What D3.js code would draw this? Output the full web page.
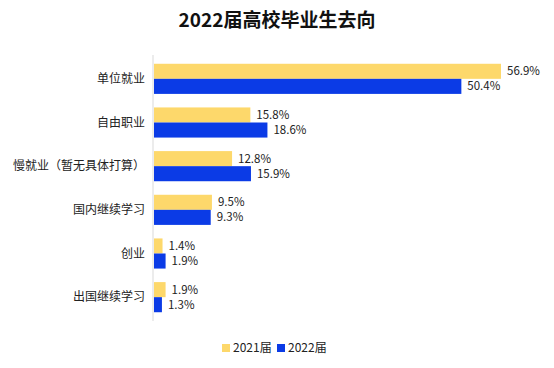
<!DOCTYPE html>
<html>
<head>
<meta charset="utf-8">
<script src="https://cdn.jsdelivr.net/npm/d3@7"></script>
<style>
  body { margin: 0; background: #fff; }
  text { font-family: "Noto Sans CJK SC", "Microsoft YaHei", sans-serif; }
</style>
</head>
<body>
<script>
const categories = ["单位就业", "自由职业", "慢就业（暂无具体打算）", "国内继续学习", "创业", "出国继续学习"];
const series = ["2021届", "2022届"];
const values2021 = [56.9, 15.8, 12.8, 9.5, 1.4, 1.9];
const values2022 = [50.4, 18.6, 15.9, 9.3, 1.9, 1.3];
const colors = ["#FDD86B", "#0B3BE6"];

const W = 554, H = 368;
const marginLeft = 153, plotTop = 57, plotBottom = 319;

const svg = d3.select("body").append("svg")
    .attr("width", W)
    .attr("height", H);

svg.append("text")
    .attr("x", W / 2)
    .attr("y", 27)
    .attr("text-anchor", "middle")
    .attr("font-size", 19)
    .attr("font-weight", "bold")
    .attr("fill", "#111")
    .text("2022届高校毕业生去向");

const x = d3.scaleLinear().domain([0, 56.9]).range([marginLeft, 500]);
const y = d3.scaleBand().domain(categories).range([plotTop, plotBottom]).paddingInner(0.31).paddingOuter(0.155);
const inner = d3.scaleBand().domain(series).range([0, y.bandwidth()]);

// category axis
svg.append("line")
    .attr("x1", marginLeft).attr("x2", marginLeft)
    .attr("y1", plotTop - 2).attr("y2", plotBottom + 2)
    .attr("stroke", "#d9d9d9").attr("stroke-width", 1);

svg.append("g").selectAll("text")
    .data(categories)
    .join("text")
    .attr("x", marginLeft - 8)
    .attr("y", d => y(d) + y.bandwidth() / 2)
    .attr("dy", "0.35em")
    .attr("text-anchor", "end")
    .attr("font-size", 12)
    .attr("fill", "#222")
    .text(d => d);

const all = [values2021, values2022];
series.forEach((s, si) => {
    const g = svg.append("g");
    g.selectAll("rect")
        .data(all[si])
        .join("rect")
        .attr("x", marginLeft + 1)
        .attr("y", (d, i) => y(categories[i]) + inner(s))
        .attr("width", d => x(d) - marginLeft)
        .attr("height", inner.bandwidth())
        .attr("fill", colors[si]);
    g.selectAll("text")
        .data(all[si])
        .join("text")
        .attr("x", d => x(d) + 7)
        .attr("y", (d, i) => y(categories[i]) + inner(s) + inner.bandwidth() / 2)
        .attr("dy", "0.35em")
        .attr("font-size", 11.5)
        .attr("fill", "#222")
        .text(d => d.toFixed(1) + "%");
});

// legend
const legend = svg.append("g");
const lx = [222, 277];
series.forEach((s, i) => {
    legend.append("rect")
        .attr("x", lx[i]).attr("y", 344)
        .attr("width", 8).attr("height", 8)
        .attr("fill", colors[i]);
    legend.append("text")
        .attr("x", lx[i] + 11).attr("y", 348)
        .attr("dy", "0.35em")
        .attr("font-size", 12)
        .attr("fill", "#222")
        .text(s);
});
</script>
</body>
</html>
